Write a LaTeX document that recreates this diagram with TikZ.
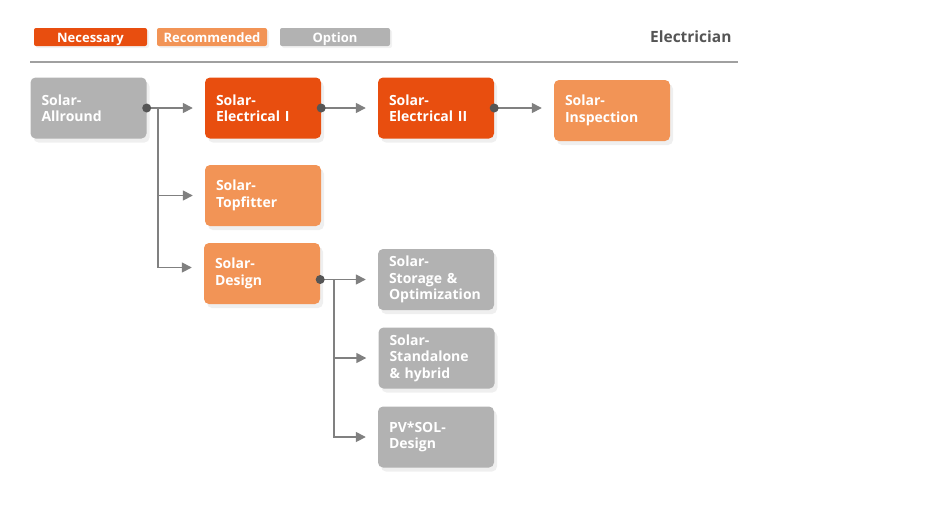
\documentclass[tikz,border=0pt]{standalone}
\usepackage{fontspec}
\setmainfont{Open Sans}
\usetikzlibrary{arrows.meta,shadows}
\definecolor{necessary}{HTML}{E84E0F}
\definecolor{recommended}{HTML}{F29456}
\definecolor{option}{HTML}{B2B2B2}
\definecolor{linegray}{HTML}{808080}
\definecolor{dotgray}{HTML}{555555}
\begin{document}
\begin{tikzpicture}[x=1pt, y=-1pt,
  every node/.style={font=\bfseries\fontsize{14}{16.5}\selectfont, text=white},
  course/.style={rounded corners=5pt, minimum width=116pt, minimum height=61pt,
    text width=94pt, inner xsep=11pt, align=left,
    drop shadow={opacity=0.13, shadow xshift=3pt, shadow yshift=-4pt}},
  legend/.style={rounded corners=2pt, minimum width=110pt, minimum height=18pt, inner sep=0pt,
    text height=12pt, text depth=1pt,
    font=\bfseries\fontsize{13}{14}\selectfont,
    drop shadow={opacity=0.10, shadow xshift=2pt, shadow yshift=-2pt}},
  link/.style={draw=linegray, line width=1.6pt, -{Triangle[length=10pt,width=10pt]}, shorten >=12pt},
  dot/.style={fill=dotgray}]
  \useasboundingbox (0,0) rectangle (947,523);

  % legend
  \node[legend, fill=necessary, minimum width=113pt] (lnec) at (90.5,37) {Necessary};
  \node[legend, fill=recommended] (lrec) at (212,37) {Recommended};
  \node[legend, fill=option] (lopt) at (335,37) {Option};
  \node[anchor=east, text=dotgray, font=\bfseries\fontsize{15.5}{18}\selectfont] (title) at (735,37) {Electrician};
  \draw[option!90!black, line width=2pt] (30,62) -- (738,62);

  % first row
  \node[course, fill=option] (allround) at (88.5,108) {Solar-\\Allround};
  \node[course, fill=necessary] (elec1) at (263,108) {Solar-\\Electrical I};
  \node[course, fill=necessary] (elec2) at (436,108) {Solar-\\Electrical II};
  \node[course, fill=recommended] (inspect) at (612,110.5) {Solar-\\Inspection};

  % second and third row
  \node[course, fill=recommended] (topfitter) at (263,195.5) {Solar-\\Topfitter};
  \node[course, fill=recommended] (design) at (262,273.5) {Solar-\\Design};
  \node[course, fill=option] (storage) at (436,279.5) {Solar-\\Storage \&\\Optimization};
  \node[course, fill=option] (standalone) at (436.5,358) {Solar-\\Standalone\\\& hybrid};
  \node[course, fill=option] (pvsol) at (436,437) {PV*SOL-\\Design};

  % connectors
  \coordinate (split1) at ([xshift=11pt]allround.east);
  \coordinate (designout) at (design.east |- storage.west);
  \coordinate (split2) at ([xshift=14pt]designout);
  \draw[link] (allround.east) -- (elec1.west);
  \draw[link] (elec1.east) -- (elec2.west);
  \draw[link] (elec2.east) -- (elec2.east -| inspect.west);
  \draw[link] (split1) |- (topfitter.west);
  \draw[link] (split1) |- ([yshift=6pt]design.west);
  \draw[link] (designout) -- (storage.west);
  \draw[link] (split2) |- (standalone.west);
  \draw[link] (split2) |- (pvsol.west);

  % dots
  \fill[dot] (allround.east) circle (4.5pt);
  \fill[dot] (elec1.east) circle (4.5pt);
  \fill[dot] (elec2.east) circle (4.5pt);
  \fill[dot] (designout) circle (4.5pt);
\end{tikzpicture}
\end{document}
